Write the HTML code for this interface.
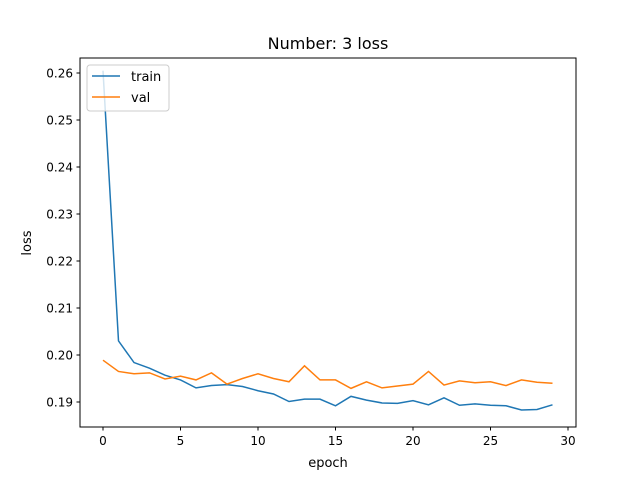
<!DOCTYPE html>
<html><head><meta charset="utf-8"><style>
body{margin:0;background:#fff}
svg text{font-family:"DejaVu Sans","Liberation Sans",sans-serif;fill:#000}
</style></head><body>
<svg width="640" height="480" xmlns="http://www.w3.org/2000/svg">
<rect width="640" height="480" fill="#fff"/>
<text x="328" y="49" font-size="16" text-anchor="middle">Number: 3 loss</text>
<g id="axes"></g>
<g id="plot"></g>
<rect x="80" y="58" width="496" height="369" fill="none" stroke="#000" stroke-width="1"/>
<text x="328" y="467" font-size="13" text-anchor="middle">epoch</text>
<text x="31" y="243" font-size="13" text-anchor="middle" transform="rotate(-90 31 243)">loss</text>
<g>
<rect x="87" y="65" width="82" height="46" rx="3" fill="#fff" fill-opacity="0.8" stroke="#ccc"/>
<line x1="92" y1="76" x2="120" y2="76" stroke="#1f77b4" stroke-width="1.5"/>
<text x="131" y="81" font-size="13">train</text>
<line x1="92" y1="97" x2="120" y2="97" stroke="#ff7f0e" stroke-width="1.5"/>
<text x="131" y="102" font-size="13">val</text>
</g>
</svg>
<script>
const train = [0.2605,0.2030,0.1984,0.1972,0.1957,0.1947,0.1930,0.1935,0.1937,0.1933,0.1924,0.1917,0.1901,0.1906,0.1906,0.1892,0.1912,0.1904,0.1898,0.1897,0.1903,0.1894,0.1909,0.1893,0.1896,0.1893,0.1892,0.1883,0.1884,0.1894];
const val = [0.1989,0.1965,0.1960,0.1962,0.1949,0.1955,0.1947,0.1962,0.1938,0.1950,0.1960,0.1950,0.1943,0.1977,0.1947,0.1947,0.1929,0.1943,0.1930,0.1934,0.1938,0.1965,0.1936,0.1945,0.1941,0.1943,0.1935,0.1947,0.1942,0.1940];
const xTicks = [0,5,10,15,20,25,30];
const yTicks = [0.19,0.20,0.21,0.22,0.23,0.24,0.25,0.26];
const NS="http://www.w3.org/2000/svg";
function sx(v){return 103+v*15.5;}
function sy(v){return 402-(v-0.19)*4700;}
const axes=document.getElementById('axes'), plot=document.getElementById('plot');
xTicks.forEach(t=>{
  const l=document.createElementNS(NS,'line');
  
  
  l.setAttribute('x1',sx(t));l.setAttribute('x2',sx(t));l.setAttribute('y1',427);l.setAttribute('y2',430.5);l.setAttribute('stroke','#000');
  axes.appendChild(l);
  const tx=document.createElementNS(NS,'text');
  
  
  tx.setAttribute('x',sx(t));tx.setAttribute('y',445);tx.setAttribute('font-size','12');tx.setAttribute('text-anchor','middle');
  tx.textContent=t;axes.appendChild(tx);
});
yTicks.forEach(t=>{
  const l=document.createElementNS(NS,'line');
  
  
  l.setAttribute('x1',76.5);l.setAttribute('x2',80);l.setAttribute('y1',sy(t));l.setAttribute('y2',sy(t));l.setAttribute('stroke','#000');
  axes.appendChild(l);
  const tx=document.createElementNS(NS,'text');
  
  
  tx.setAttribute('x',73);tx.setAttribute('y',sy(t)+4.5);tx.setAttribute('font-size','12');tx.setAttribute('text-anchor','end');
  tx.textContent=t.toFixed(2);axes.appendChild(tx);
});
function line(data,color,name){
  const p=document.createElementNS(NS,'polyline');
  
  
  p.setAttribute('points',data.map((v,i)=>sx(i)+','+sy(v)).join(' '));
  p.setAttribute('fill','none');p.setAttribute('stroke',color);p.setAttribute('stroke-width','1.5');
  plot.appendChild(p);
}
line(train,'#1f77b4','train-line');
line(val,'#ff7f0e','val-line');
</script>
</body></html>
